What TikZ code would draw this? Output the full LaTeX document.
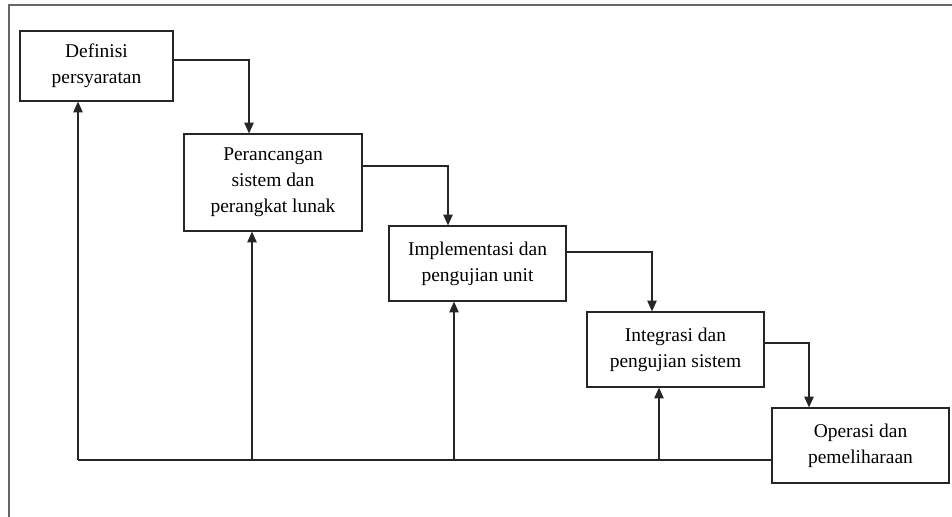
\documentclass[tikz,border=0pt]{standalone}
\usepackage{fontspec}
\setmainfont{Liberation Serif}
\usepackage{tikz}
\usetikzlibrary{arrows.meta}
\tikzset{
    tahap/.style={draw=black!85, line width=0.9pt, rectangle, align=center, inner sep=0pt,
        font=\fontsize{14.6}{19.5}\selectfont},
    panah/.style={draw=black!85, line width=0.9pt, -{Triangle[length=8pt,width=7pt]}},
    garis/.style={draw=black!85, line width=0.9pt}
}

\begin{document}
\begin{tikzpicture}[x=0.75pt,y=-0.75pt]
                    \useasboundingbox (0,0) rectangle (952,517);
                    \draw[black!60, line width=1.3pt] (9,517) -- (9,5) -- (952,5);

                    \node[tahap, minimum width=114.75pt, minimum height=52.5pt] (def) at (96.5,66) {Definisi\\persyaratan};
                    \node[tahap, minimum width=133.5pt, minimum height=72.75pt] (ranc) at (273,182.5) {Perancangan\\sistem dan\\perangkat lunak};
                    \node[tahap, minimum width=132.75pt, minimum height=56.25pt] (impl) at (477.5,263.5) {Implementasi dan\\pengujian unit};
                    \node[tahap, minimum width=132.75pt, minimum height=56.25pt] (integ) at (675.5,349.5) {Integrasi dan\\pengujian sistem};
                    \node[tahap, minimum width=132.75pt, minimum height=56.25pt] (opr) at (860.5,445.5) {Operasi dan\\pemeliharaan};

                    \coordinate (k1) at (249,60);
                    \coordinate (k2) at (448,166);
                    \coordinate (k3) at (652,252);
                    \coordinate (k4) at (809,343);

                    \draw[panah] (def.east |- k1) -- (k1) -- (k1 |- ranc.north);
                    \draw[panah] (ranc.east |- k2) -- (k2) -- (k2 |- impl.north);
                    \draw[panah] (impl.east |- k3) -- (k3) -- (k3 |- integ.north);
                    \draw[panah] (integ.east |- k4) -- (k4) -- (k4 |- opr.north);

                    \coordinate (b0) at (78,460);
                    \coordinate (b1) at (252,460);
                    \coordinate (b2) at (454,460);
                    \coordinate (b3) at (659,460);

                    \draw[garis] (opr.west |- b0) -- (b0);
                    \draw[panah] (b0) -- (b0 |- def.south);
                    \draw[panah] (b1) -- (b1 |- ranc.south);
                    \draw[panah] (b2) -- (b2 |- impl.south);
                    \draw[panah] (b3) -- (b3 |- integ.south);
\end{tikzpicture}
\end{document}
